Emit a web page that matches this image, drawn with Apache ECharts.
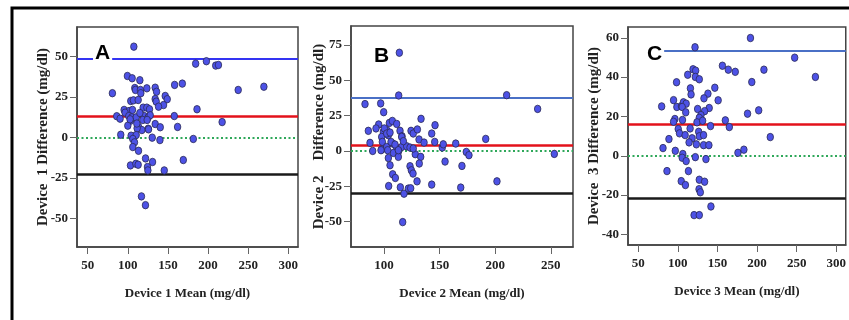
<!DOCTYPE html>
<html><head><meta charset="utf-8">
<script src="https://cdn.jsdelivr.net/npm/echarts@6/dist/echarts.min.js"></script>
<style>html,body{margin:0;padding:0;background:#fff}#c{width:849px;height:320px}</style>
</head><body><div id="c"></div>
<script>
// ---- Data ----
const aX = [107.5,184.5,197.9,209.5,212.9,80.8,99.5,105.4,115,108.7,109.5,115.7,116.2,123.7,134.1,135.8,158.3,167.9,237.5,269.5,
  103.7,107,112.9,134.1,135.4,146.6,149.1,144.5,138.3,119.1,123.7,127,95.4,101.6,105.8,96.6,186.2,86.2,90.4,101.2,
  105,110.4,120.4,125.4,127.9,118.7,124.1,157.9,103.3,113.3,100,134.1,140.4,162,217.5,125.4,117.5,111.6,91.2,104.1,
  110.4,106.2,130.4,140,181.6,108.3,106.2,113.3,122.1,130.8,169.1,103.3,110,112.9,124.5,125,145.4,117,122,
  102.9,111.2,125.8,115];
const aY = [55.9,45.4,46.9,44.2,44.6,27.2,37.8,36.4,35.2,30.4,29.2,29.2,27.2,30.2,30.6,28.1,32.3,33.1,29.2,31.2,
  22.4,22.8,23,23.6,22,25.5,23.5,19.9,18.9,18.3,18.3,17.3,16.9,16.2,16.9,15.2,17.3,13,11.5,13.1,
  12.3,12.3,13.1,12.3,13.6,10.7,10.7,13.1,10.2,6.5,7.2,8.2,6.2,6.4,9.4,5.3,4.5,5.6,1.6,1.0,
  1.4,-1.0,-0.2,-1.7,-1.0,-3.1,-6.0,-8.3,-13,-15.2,-14,-17.3,-16.3,-16.9,-18.3,-20.4,-20.4,-36.4,-41.8,
  11.1,8.5,4.9,15];
const bX = [113.8,113.2,210.3,238.2,82.9,97,99.7,133.3,145.9,85.9,95.2,104.8,107.5,111.4,92.8,99.4,102.4,97.9,103.9,114.4,
  116.2,124.3,126.3,130,142.9,145.6,131.5,136,87.4,89.8,98.5,97.9,102.4,107.8,111.4,115.9,120.4,123.4,152.4,153.3,
  164.5,191.5,174,176.4,253.2,108.4,113.2,103.9,112.9,128.1,133,105.4,131.7,154.9,170.1,107.8,110.2,123.4,124.6,126.1,
  129.7,104.2,114.7,118,121.9,124,142.9,169,201.6,116.8,
  100.3,102.4,105.4,106.3,109.9,115.9,117.4,112.9,103.3,97.3,126.3];
const bY = [69.4,39.2,39.4,29.7,33.1,33.6,27.4,22.7,18.2,14.2,18.7,19.8,21.2,19.1,15.9,13.5,14.7,9.9,11.1,14.2,
  10.4,14.2,12.3,15.2,12.3,6.4,8.1,5.9,5.7,0,6.4,1.0,2.8,5.2,1.7,2.8,3.3,2.4,2.4,4.7,
  5.2,8.5,-0.7,-3.0,-2.1,-1.4,0,-5.0,-4.2,-2.3,-4.2,-10.1,-8.9,-7.5,-10.6,-16.5,-19.1,-10.8,-13.7,-16,
  -21.5,-24.8,-25.7,-30.2,-26.6,-26.4,-23.8,-25.9,-21.5,-50.3,
  15.9,12.3,13,6.4,4.5,9.9,6.9,0.5,0.5,0.5,1.7];
const cX = [191.7,121.7,247.5,273.7,156.3,163.7,172.5,208.7,193.4,119.2,122.5,112.5,122.1,127.1,98.4,115.9,116.7,146.7,138,133,
  150.9,79.6,94.6,98.8,104.6,107.1,110.5,105.5,110,125,139.6,133.8,129.2,127.1,96.3,94.6,105.9,124.2,131.3,160,
  165,188,202.1,216.7,141.3,100.5,102.1,109.2,115.5,118,126.3,127.1,132.5,114.2,123.4,132.5,139.2,88.8,81.3,96.8,
  106.3,105.5,110.5,122.1,135.5,175.9,183.4,86.3,113.4,104.3,109.6,127.1,133.8,126.8,128.4,141.8,120.5,127.1];
const cY = [59.9,55.2,49.9,40.1,45.8,43.8,42.7,43.8,37.5,44,43.3,41.2,40.1,38.9,37.4,34.3,31.2,34.6,31.6,29.2,
  28.2,25.1,28.3,24.8,25.3,27.2,26.5,24.8,22.1,23.8,24.3,22.7,20.7,19.3,18.7,17.3,18.2,17,17.8,18,
  14.6,21.4,23.1,9.5,15.1,13.6,11.4,10.5,13.9,8.9,12.2,9.9,10.5,6.8,5.8,5.4,5.4,8.5,3.9,2.5,
  0.9,-1.0,-2.7,-0.7,-1.7,1.5,3.1,-7.8,-7.8,-12.9,-14.9,-12.2,-13.2,-17,-18.6,-25.8,-30.2,-30.2];
// limit lines: [upper, mean, zero, lower]
const aLines = [48.4, 12.7, 0, -22.5];
const bLines = [37.8, 4.0, 0, -29.7];
const cLines = [53.4, 15.8, 0, -21.4];
const cUpperStart = 82;
const xTicksA = [50,100,150,200,250,300];
const yTicksA = [-50,-25,0,25,50];
const xTicksB = [100,150,200,250];
const yTicksB = [-50,-25,0,25,50,75];
const xTicksC = [50,100,150,200,250,300];
const yTicksC = [-40,-20,0,20,40,60];
const panelLetters = ['A','B','C'];
const xNames = ['Device 1 Mean (mg/dl)','Device 2 Mean (mg/dl)','Device 3 Mean (mg/dl)'];
const yNames = ['Device  1 Difference (mg/dl)','Device 2    Difference (mg/dl)','Device  3 Difference (mg/dl)'];

// ---- Chart ----
const chart = echarts.init(document.getElementById('c'), null, {renderer:'canvas'});
const serif = 'Liberation Serif';
const frameColor = '#444';
function xAxis(i, min, max, ticks){
  return {type:'value', gridIndex:i, min:min, max:max,
    name:xNames[i], nameLocation:'middle', nameGap:40, nameMoveOverlap:false,
    nameTextStyle:{fontFamily:serif, fontWeight:'bold', fontSize:13, color:'#222'},
    axisLine:{show:true, onZero:false, lineStyle:{color:frameColor, width:1.5}},
    axisTick:{show:true, length:7, customValues:ticks, lineStyle:{color:'#666'}},
    axisLabel:{customValues:ticks, margin:12, fontFamily:serif, fontWeight:'bold', fontSize:13, color:'#222'},
    splitLine:{show:false}};
}
function yAxis(i, min, max, ticks, gap){
  return {type:'value', gridIndex:i, min:min, max:max,
    name:yNames[i], nameLocation:'middle', nameGap:gap, nameRotate:90, nameMoveOverlap:false,
    nameTextStyle:{fontFamily:serif, fontWeight:'bold', fontSize:15, color:'#222'},
    axisLine:{show:true, onZero:false, lineStyle:{color:frameColor, width:1.5}},
    axisTick:{show:true, length:7, customValues:ticks, lineStyle:{color:'#666'}},
    axisLabel:{customValues:ticks, margin:9, fontFamily:serif, fontWeight:'bold', fontSize:13, color:'#222'},
    splitLine:{show:false}};
}
function zip(xs, ys){ return xs.map((x,k)=>[x, ys[k]]); }
function lineSeries(i, lines, upperColor, xMax, upperStart){
  const upper = upperStart == null ? {yAxis:lines[0], lineStyle:{color:upperColor, width:2, type:'solid'}}
    : [{coord:[upperStart, lines[0]], lineStyle:{color:upperColor, width:2, type:'solid'}},{coord:[xMax, lines[0]]}];
  return {type:'scatter', xAxisIndex:i, yAxisIndex:i, data:[], z:2, silent:true,
    markLine:{symbol:'none', silent:true, animation:false, label:{show:false},
      data:[
        upper,
        {yAxis:lines[1], lineStyle:{color:'#e3121b', width:2.5, type:'solid'}},
        {yAxis:lines[2], lineStyle:{color:'#2fa85a', width:2, type:[2,2.5]}},
        {yAxis:lines[3], lineStyle:{color:'#1a1a1a', width:2.5, type:'solid'}}
      ]}};
}
function pts(i, xs, ys){
  return {type:'scatter', xAxisIndex:i, yAxisIndex:i, data:zip(xs,ys), z:5,
    symbol:'circle', symbolSize:[6.5,7.5],
    itemStyle:{color:'#4d52e6', borderColor:'#2a2a55', borderWidth:0.8, opacity:1}};
}
const grids = [
  {left:77, top:27, width:221, height:220},
  {left:351, top:26, width:222, height:221},
  {left:628, top:27, width:220, height:218}
];
grids.forEach(g=>{ g.show=true; g.borderColor=frameColor; g.borderWidth=1.5; g.backgroundColor='#fff'; g.containLabel=false; });
const letterStyle = {fontFamily:'Liberation Sans', fontWeight:'bold', fontSize:21, fill:'#000', backgroundColor:'#fff', padding:[0,2]};
chart.setOption({
  animation:false,
  backgroundColor:'#fff',
  grid:grids,
  xAxis:[xAxis(0,36.7,312,xTicksA), xAxis(1,70.3,270,xTicksB), xAxis(2,37.1,312,xTicksC)],
  yAxis:[yAxis(0,-67.6,68,yTicksA,26), yAxis(1,-67.9,88.3,yTicksB,24), yAxis(2,-45.4,65.5,yTicksC,26)],
  series:[
    lineSeries(0,aLines,'#3434f2'), lineSeries(1,bLines,'#4a70c6'), lineSeries(2,cLines,'#4a70c6',312,cUpperStart),
    pts(0,aX,aY), pts(1,bX,bY), pts(2,cX,cY)
  ],
  graphic:[
    {type:'rect', shape:{x:12, y:8, width:900, height:400}, style:{fill:'none', stroke:'#000', lineWidth:3}, z:100},
    {type:'text', left:93, top:43, style:Object.assign({text:panelLetters[0]}, letterStyle), z:50},
    {type:'text', left:372, top:46, style:Object.assign({text:panelLetters[1]}, letterStyle), z:50},
    {type:'text', left:645, top:44, style:Object.assign({text:panelLetters[2]}, letterStyle), z:50}
  ]
});
</script></body></html>
